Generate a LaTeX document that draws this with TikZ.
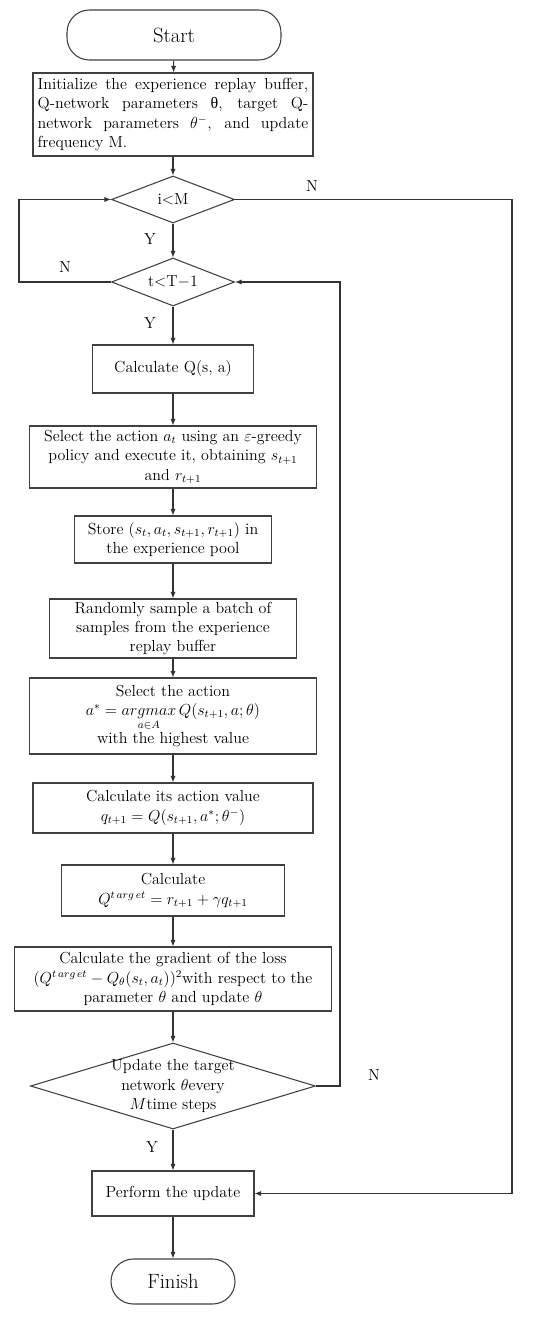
\documentclass[tikz,border=0pt]{standalone}
\usepackage{fontspec}
\newfontfamily\grk{Liberation Serif}
\usetikzlibrary{shapes.geometric,arrows.meta}
\begin{document}
\begin{tikzpicture}[x=0.75pt,y=-0.75pt,
 every node/.style={font=\fontsize{12}{14.6}\selectfont, text=black},
 box/.style={draw=black!75, line width=0.8pt, inner sep=1pt, align=center},
 term/.style={box, rounded corners=16.8pt, font=\fontsize{15.5}{18}\selectfont},
 dec/.style={draw=black!75, line width=0.8pt, diamond, inner sep=0pt},
 arr/.style={draw=black!80, line width=0.8pt, -{Latex[length=5pt,width=4pt]}},
 lbl/.style={font=\fontsize{12}{14}\selectfont}]
\useasboundingbox (0,0) rectangle (550,1317);

\node[term, minimum width=160.5pt, minimum height=37.5pt] (start) at (174,35) {Start};
\node[box, minimum width=210pt, minimum height=62.25pt, align=justify, text width=203pt] (init) at (173,114.5)
 {Initialize the experience replay buffer,\linebreak Q-network parameters {\grk θ}, target Q-\linebreak network parameters $\theta^{-}$, and update\linebreak frequency M.};
\node[dec, minimum width=92.25pt, minimum height=35.25pt] (d1) at (173,199.5) {};
\node at (d1) {i$<$M};
\node[dec, minimum width=92.25pt, minimum height=36pt] (d2) at (173,282) {};
\node at (d2) {t$<$T$-$1};
\node[box, minimum width=120.75pt, minimum height=36pt] (cq) at (173,369) {Calculate Q(s, a)};
\node[box, minimum width=215.25pt, minimum height=46.5pt] (sel) at (173,457)
 {Select the action $a_t$ using an $\varepsilon$-greedy\\policy and execute it, obtaining $s_{t+1}$\\and $r_{t+1}$};
\node[box, minimum width=147.75pt, minimum height=35.25pt] (store) at (173,539.5)
 {Store $(s_t,a_t,s_{t+1},r_{t+1})$ in\\the experience pool};
\node[box, minimum width=185.25pt, minimum height=44.25pt] (rand) at (173,628.5)
 {Randomly sample a batch of\\samples from the experience\\replay buffer};
\node[box, minimum width=215.25pt, minimum height=57pt] (sela) at (173,716)
 {Select the action\\$a^{*}=\mathop{argmax}\limits_{a\in A}Q(s_{t+1},a;\theta)$\\[1pt]with the highest value};
\node[box, minimum width=210pt, minimum height=37.5pt] (cv) at (173,808)
 {Calculate its action value\\$q_{t+1}=Q(s_{t+1},a^{*};\theta^{-})$};
\node[box, minimum width=167.25pt, minimum height=38.25pt] (ct) at (173,890.5)
 {Calculate\\$Q^{t\,arg\,et}=r_{t+1}+\gamma q_{t+1}$};
\node[box, minimum width=237.75pt, minimum height=48pt] (grad) at (173,979)
 {Calculate the gradient of the loss\\$(Q^{t\,arg\,et}-Q_{\theta}(s_t,a_t))^2$with respect to the\\parameter $\theta$ and update $\theta$};
\node[dec, minimum width=213.75pt, minimum height=64.5pt] (d3) at (173,1086) {};
\node[align=center] at (d3) {Update the target\\network $\theta$every\\$M$time steps};
\node[box, minimum width=121.5pt, minimum height=33.75pt] (perf) at (173,1193.5) {Perform the update};
\node[term, minimum width=93pt, minimum height=33.75pt] (fin) at (173,1281.5) {Finish};

\draw[arr] (start) -- (init);
\draw[arr] (init) -- (d1);
\draw[arr] (d1) -- (d2);
\draw[arr] (d2) -- (cq);
\draw[arr] (cq) -- (sel);
\draw[arr] (sel) -- (store);
\draw[arr] (store) -- (rand);
\draw[arr] (rand) -- (sela);
\draw[arr] (sela) -- (cv);
\draw[arr] (cv) -- (ct);
\draw[arr] (ct) -- (grad);
\draw[arr] (grad) -- (d3);
\draw[arr] (d3) -- (perf);
\draw[arr] (perf) -- (fin);

\draw[arr] (d1.east) -- (512,199.5) |- (perf.east);
\draw[arr] (d2.west) -- (19,282) |- (d1.west);
\draw[arr] (d3.east) -- (340,1086) |- (d2.east);

\node[lbl] (n1) at (312,186) {N};
\node[lbl] (y1) at (150,239) {Y};
\node[lbl] (n2) at (65,267) {N};
\node[lbl] (y2) at (150,323) {Y};
\node[lbl] (n3) at (374,1075) {N};
\node[lbl] (y3) at (152,1147) {Y};
\end{tikzpicture}
\end{document}
